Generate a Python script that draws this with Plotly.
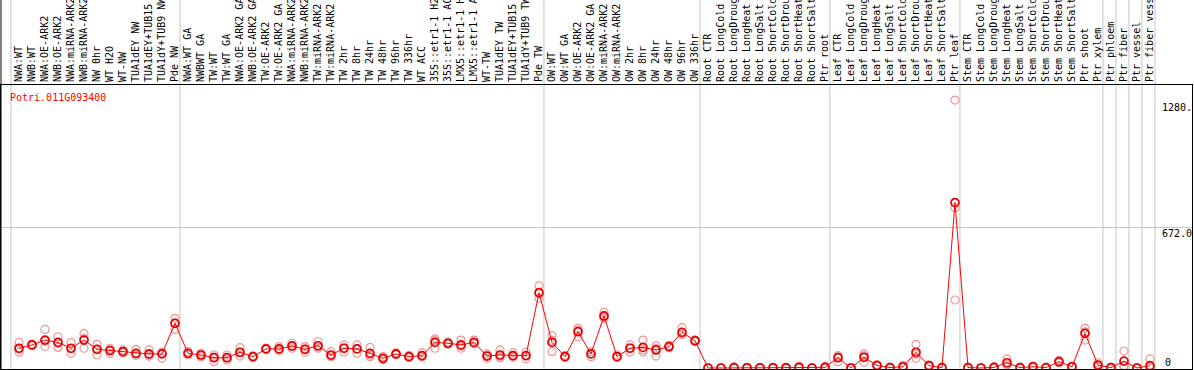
import plotly.graph_objects as go

labels = [
    "NWA:WT", "NWB:WT", "NWA:OE-ARK2", "NWB:OE-ARK2", "NWA:miRNA-ARK2", "NWB:miRNA-ARK2",
    "NW 0hr", "WT H2O", "WT-NW", "TUA1dEY NW", "TUA1dEY+TUB15", "TUA1dY+TUB9 NW", "Pde NW",
    "NWA:WT GA", "NWBWT GA", "TW:WT", "TW:WT GA", "NWA:OE-ARK2 GA", "NWB:OE-ARK2 GA",
    "TW:OE-ARK2", "TW:OE-ARK2 GA", "NWA:miRNA-ARK2", "NWB:miRNA-ARK2", "TW:miRNA-ARK2",
    "TW:miRNA-ARK2", "TW 2hr", "TW 8hr", "TW 24hr", "TW 48hr", "TW 96hr", "TW 336hr", "WT ACC",
    "35S::etr1-1 H2O", "35S::etr1-1 ACC", "LMX5::etr1-1 H2O", "LMX5::etr1-1 ACC", "WT-TW",
    "TUA1dEY TW", "TUA1dEY+TUB15", "TUA1dY+TUB9 TW", "Pde TW",
    "OW:WT", "OW:WT GA", "OW:OE-ARK2", "OW:OE-ARK2 GA", "OW:miRNA-ARK2", "OW:miRNA-ARK2",
    "OW 2hr", "OW 8hr", "OW 24hr", "OW 48hr", "OW 96hr", "OW 336hr",
    "Root CTR", "Root LongCold", "Root LongDrought", "Root LongHeat", "Root LongSalt",
    "Root ShortCold", "Root ShortDrought", "Root ShortHeat", "Root ShortSalt", "Ptr root",
    "Leaf CTR", "Leaf LongCold", "Leaf LongDrought", "Leaf LongHeat", "Leaf LongSalt",
    "Leaf ShortCold", "Leaf ShortDrought", "Leaf ShortHeat", "Leaf ShortSalt", "Ptr leaf",
    "Stem CTR", "Stem LongCold", "Stem LongDrought", "Stem LongHeat", "Stem LongSalt",
    "Stem ShortCold", "Stem ShortDrought", "Stem ShortHeat", "Stem ShortSalt", "Ptr shoot",
    "Ptr xylem", "Ptr phloem", "Ptr fiber", "Ptr vessel", "Ptr fiber vessel",
]

mean_vals = [
    94, 110, 133, 122, 94, 133, 89, 83, 78, 70, 67, 67, 213,
    70, 62, 49, 49, 75, 54, 91, 91, 105, 89, 106, 62, 94, 91, 70, 46, 67, 54, 59,
    122, 118, 110, 122, 57, 62, 59, 59, 359,
    122, 54, 173, 67, 248, 54, 94, 98, 86, 102, 170, 130,
    0, 0, 2, 1, 1, 1, 1, 3, 0, 3,
    49, 0, 51, 12, 2, 6, 75, 11, 2, 788,
    2, 0, 3, 25, 2, 6, 2, 30, 6, 165,
    14, 2, 33, 0, 11,
]

rep_hi = [
    122, 114, 184, 149, 121, 165, 113, 94, 86, 89, 86, 75, 237,
    78, 70, 62, 62, 97, 58, 95, 102, 118, 102, 125, 78, 110, 110, 98, 54, 72, 60, 73,
    139, 123, 133, 133, 67, 86, 73, 75, 391,
    154, 60, 189, 78, 265, 62, 110, 133, 105, 108, 192, 134,
    1, 1, 6, 3, 3, 4, 3, 8, 2, 8,
    59, 2, 67, 16, 4, 11, 113, 14, 4, 1277,
    4, 2, 6, 43, 4, 10, 4, 36, 9, 189,
    25, 4, 81, 2, 43,
]

rep_mid = [
    90, 110, 128, 118, 92, 140, 90, 85, 78, 68, 64, 72, 215,
    70, 62, 52, 48, 72, 54, 90, 90, 104, 90, 100, 58, 96, 92, 62, 44, 66, 52, 55,
    130, 118, 104, 118, 58, 56, 58, 58, 354,
    132, 52, 178, 68, 244, 52, 96, 76, 94, 102, 160, 130,
    0, 0, 1, 1, 1, 0, 1, 2, 0, 1,
    52, 0, 58, 12, 2, 5, 66, 10, 2, 764,
    2, 0, 2, 16, 2, 6, 2, 30, 6, 172,
    10, 2, 12, 0, 2,
]

rep_lo = [
    75, 106, 102, 98, 70, 94, 62, 70, 72, 60, 57, 46, 184,
    62, 54, 30, 38, 57, 50, 88, 83, 94, 75, 94, 54, 75, 70, 54, 40, 62, 50, 52,
    94, 113, 94, 115, 46, 49, 52, 44, 332,
    78, 50, 149, 54, 237, 50, 75, 86, 57, 96, 160, 126,
    0, 0, 0, 0, 0, 0, 0, 0, 0, 1,
    30, 0, 27, 8, 0, 2, 46, 8, 0, 324,
    0, 0, 1, 18, 0, 2, 0, 25, 3, 133,
    8, 0, 8, 0, 0,
]

sep_after = [-1, 12, 40, 52, 62, 72, 83, 84, 85, 86, 87]
y_tick_vals = [0, 672, 1280]
y_tick_text = ["0", "672.0", "1280."]
gene = "Potri.011G093400"

W, H = 1194, 370
ML, MR, MT, MB = 1, 2, 85, 1
PW = W - ML - MR
PH = H - MT - MB
PX_PER_UNIT = 13.0
x0 = -18.0 / PX_PER_UNIT
x1 = x0 + PW / PX_PER_UNIT
y_lo, y_hi = -4.8, 1349.0

xs = list(range(len(labels)))
mono = "DejaVu Sans Mono"

fig = go.Figure()
rep_color = "rgb(238,150,150)"
for reps in (rep_hi, rep_mid, rep_lo):
    fig.add_trace(go.Scatter(
        x=xs, y=reps, mode="markers", showlegend=False, hoverinfo="skip", cliponaxis=True,
        marker=dict(symbol="circle-open", size=8, color=rep_color, line=dict(width=1.2, color=rep_color)),
    ))
fig.add_trace(go.Scatter(
    x=xs, y=mean_vals, mode="lines+markers", showlegend=False, cliponaxis=True,
    line=dict(color="red", width=1),
    marker=dict(symbol="circle-open", size=8, color="rgb(230,0,0)", line=dict(width=1.7, color="rgb(230,0,0)")),
))

shapes = []
top_paper = (H - MB) / PH
for s in sep_after:
    xv = s + 0.38
    shapes.append(dict(type="line", xref="x", yref="paper", x0=xv, x1=xv, y0=0, y1=top_paper + 0.01,
                       line=dict(color="#c4c4c4", width=1), layer="below"))
shapes.append(dict(type="line", xref="paper", yref="paper", x0=0, x1=0, y0=0, y1=top_paper + 0.01,
                   line=dict(color="black", width=1)))

annotations = [dict(
    text=gene, xref="paper", yref="paper", x=(8 - ML) / PW, y=(H - MB - 97) / PH,
    xanchor="left", yanchor="middle", showarrow=False,
    font=dict(family=mono, size=10, color="red"),
)]
tx = (1160 - ML) / PW
for v, t in zip(y_tick_vals, y_tick_text):
    if v == 0:
        annotations.append(dict(text=t, xref="paper", yref="y", x=tx + 3 / PW, y=v, xanchor="left",
                                yanchor="bottom", yshift=-2, showarrow=False,
                                font=dict(family=mono, size=10, color="black")))
    else:
        annotations.append(dict(text=t, xref="paper", yref="y", x=tx, y=v, xanchor="left",
                                yanchor="top", yshift=1 if v == 672 else -1, showarrow=False,
                                font=dict(family=mono, size=10, color="black")))

fig.update_layout(
    width=W, height=H,
    margin=dict(l=ML, r=MR, t=MT, b=MB, pad=0),
    paper_bgcolor="white", plot_bgcolor="white",
    showlegend=False,
    shapes=shapes,
    annotations=annotations,
    xaxis=dict(
        range=[x0, x1], side="top", tickmode="array", tickvals=xs, ticktext=labels,
        tickangle=-90, ticks="", showgrid=False, zeroline=False,
        showline=True, linecolor="black", linewidth=1, mirror=True,
        tickfont=dict(family=mono, size=10, color="black"), automargin=False,
    ),
    yaxis=dict(
        range=[y_lo, y_hi], tickmode="array", tickvals=[672], showticklabels=False, ticks="",
        showgrid=True, gridcolor="#c4c4c4", gridwidth=1, zeroline=False,
        showline=True, linecolor="black", linewidth=1, mirror=True, automargin=False,
    ),
)

fig.write_html("out.html", config={"displayModeBar": False},
               post_script="document.body.style.margin='0';")
